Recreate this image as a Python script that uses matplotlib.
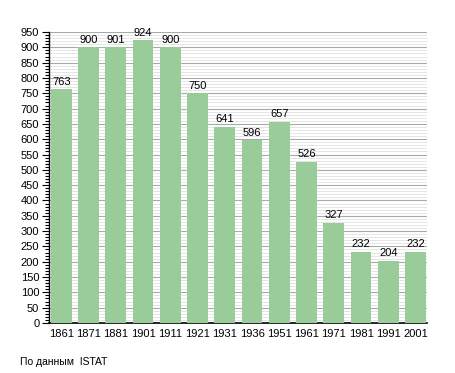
import matplotlib
matplotlib.use("Agg")
import matplotlib.pyplot as plt
from matplotlib.ticker import MultipleLocator

# Population data (ISTAT)
years = ["1861", "1871", "1881", "1901", "1911", "1921", "1931", "1936",
         "1951", "1961", "1971", "1981", "1991", "2001"]
population = [763, 900, 901, 924, 900, 750, 641, 596, 657, 526, 327, 232, 204, 232]

plt.rcParams["font.family"] = ["Liberation Sans", "DejaVu Sans"]

fig = plt.figure(figsize=(4.55, 3.73), dpi=100)
ax = fig.add_axes([49 / 455, 50 / 373, 378 / 455, 291 / 373])

x = range(len(years))
bars = ax.bar(x, population, width=0.76, color="#99cc99", zorder=3)

for xi, v in zip(x, population):
    ax.text(xi, v + 8, str(v), ha="center", va="bottom", fontsize=8, zorder=4)

ax.set_xlim(-0.45, len(years) - 1 + 0.42)
ax.set_ylim(0, 950)
ax.set_xticks(list(x))
ax.set_xticklabels(years, fontsize=8)
ax.tick_params(axis="x", length=0, pad=4)

ax.yaxis.set_major_locator(MultipleLocator(50))
ax.yaxis.set_minor_locator(MultipleLocator(10))
ax.tick_params(axis="y", which="major", length=5, width=0.8, labelsize=8, pad=2)
ax.tick_params(axis="y", which="minor", length=3, width=0.8)

ax.grid(axis="y", which="major", color="#aaaaaa", linewidth=0.8, zorder=0)
ax.grid(axis="y", which="minor", color="#e0e0e0", linewidth=0.6, zorder=0)
ax.set_axisbelow(True)

ax.spines["top"].set_visible(False)
ax.spines["right"].set_visible(False)
ax.spines["left"].set_linewidth(1.0)
ax.spines["bottom"].set_linewidth(1.2)

fig.text(20 / 455, 1 - 362 / 373, "По данным  ISTAT", fontsize=7.5, va="center")

fig.savefig("out.png", dpi=100)
